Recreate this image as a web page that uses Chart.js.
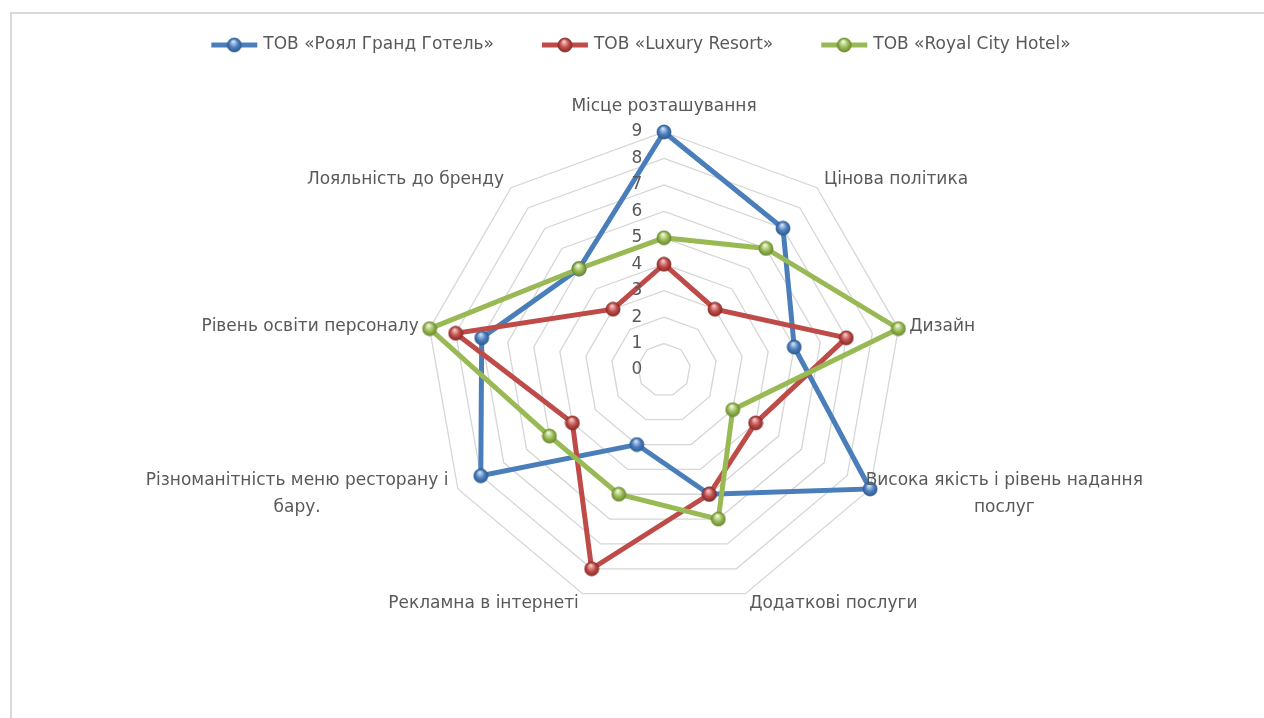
<!DOCTYPE html>
<html lang="uk">
<head>
<meta charset="utf-8">
<title>Конкурентні позиції готелів</title>
<script src="https://cdn.jsdelivr.net/npm/chart.js@4.4.0/dist/chart.umd.min.js"></script>
<style>
  html, body { margin: 0; padding: 0; background: #fff; overflow: hidden; }
  #frame { position: absolute; left: 10px; top: 12px; width: 1300px; height: 800px; border: 2px solid #d9d9d9; box-sizing: border-box; }
  #wrap { position: absolute; left: 0; top: 0; width: 1264px; height: 718px; }
</style>
</head>
<body>
<div id="frame"></div>
<div id="wrap"><canvas id="radar"></canvas></div>
<script>
// categories (clockwise from the top)
const categories = [
    "Місце розташування",
    "Цінова політика",
    "Дизайн",
    ["Висока якість і рівень надання", "послуг"],
    "Додаткові послуги",
    "Рекламна в інтернеті",
    ["Різноманітність меню ресторану і", "бару."],
    "Рівень освіти персоналу",
    "Лояльність до бренду"
];
const seriesNames = ["ТОВ «Роял Гранд Готель»", "ТОВ «Luxury Resort»", "ТОВ «Royal City Hotel»"];
const royalGrand = [9, 7, 5, 9, 5, 3, 8, 7, 5];
const luxuryResort = [4, 3, 7, 4, 5, 8, 4, 8, 3];
const royalCity = [5, 6, 9, 3, 6, 5, 5, 9, 5];
const tickValues = [0, 1, 2, 3, 4, 5, 6, 7, 8, 9];

const textGray = "#595959";
const FONT = '"DejaVu Sans", sans-serif';

// little glossy ball used as the marker
const makeBall = (base, light, dark, r) => {
    const c = document.createElement("canvas");
    const s = r * 2 + 2;
    c.width = c.height = s;
    const g = c.getContext("2d");
    const cx = s / 2, cy = s / 2;
    const grad = g.createRadialGradient(cx - r * 0.15, cy - r * 0.5, r * 0.1, cx, cy, r);
    grad.addColorStop(0, light);
    grad.addColorStop(0.55, base);
    grad.addColorStop(1, dark);
    g.fillStyle = grad;
    g.beginPath();
    g.arc(cx, cy, r, 0, Math.PI * 2);
    g.fill();
    g.strokeStyle = dark;
    g.lineWidth = 0.8;
    g.stroke();
    return c;
};

const colors = ["#4A7EBB", "#BE4B48", "#98B954"];
const balls = [
    makeBall("#4F81BD", "#c9dcf5", "#2d5b93", 7),
    makeBall("#C0504D", "#f4c4c2", "#8a2a27", 7),
    makeBall("#9BBB59", "#eef8d6", "#6b8a2e", 7)
];
const seriesData = [royalGrand, luxuryResort, royalCity];

// small per-label horizontal nudges (Excel wraps those two labels a bit differently)
const labelShiftX = [0, 0, 0, -14, 0, 0, 0, 0, 0];

const textPlugin = {
    id: "excelText",
    afterDraw(chart) {
        const scale = chart.scales.r;
        const ctx = chart.ctx;
        ctx.save();
        ctx.fillStyle = textGray;
        ctx.textBaseline = "middle";
        ctx.textAlign = "center";

        // tick numbers, left of the vertical axis
        ctx.font = "17px " + FONT;
        tickValues.forEach(v => {
            const d = scale.getDistanceFromCenterForValue(v);
            ctx.fillText(String(v), scale.xCenter - 27, scale.yCenter - d);
        });

        // category labels
        ctx.font = "17px " + FONT;
        const lh = 27;
        categories.forEach((lab, i) => {
            const lines = Array.isArray(lab) ? lab : [lab];
            const angle = i * 360 / categories.length;
            const pos = scale.getPointPosition(i, scale.drawingArea + 11);
            const w = Math.max(...lines.map(l => ctx.measureText(l).width));
            let left;
            if (angle === 0 || angle === 180) left = pos.x - w / 2;
            else if (angle < 180) left = pos.x;
            else left = pos.x - w;
            left += labelShiftX[i];
            let cy = pos.y;
            if (angle === 0) cy -= 14;
            const top = cy - lh * lines.length / 2;
            lines.forEach((l, k) => ctx.fillText(l, left + w / 2, top + lh * (k + 0.5)));
        });

        // legend
        ctx.font = "17px " + FONT;
        const symW = 46, gapTxt = 6, gapItem = 48, ly = 45;
        const widths = seriesNames.map(n => ctx.measureText(n).width);
        const total = widths.reduce((a, b) => a + b, 0) + seriesNames.length * (symW + gapTxt) + gapItem * (seriesNames.length - 1);
        let x = 641 - total / 2;
        ctx.textAlign = "left";
        seriesNames.forEach((n, i) => {
            ctx.strokeStyle = colors[i];
            ctx.lineWidth = 5;
            ctx.beginPath();
            ctx.moveTo(x, ly);
            ctx.lineTo(x + symW, ly);
            ctx.stroke();
            ctx.drawImage(balls[i], x + symW / 2 - balls[i].width / 2, ly - balls[i].height / 2);
            ctx.fillText(n, x + symW + gapTxt, ly);
            x += symW + gapTxt + widths[i] + gapItem;
        });
        ctx.restore();
    }
};

new Chart(document.getElementById("radar"), {
    type: "radar",
    data: {
        labels: categories,
        datasets: seriesData.map((d, i) => ({
            label: seriesNames[i],
            data: d,
            borderColor: colors[i],
            backgroundColor: colors[i],
            borderWidth: 5,
            fill: false,
            tension: 0,
            pointStyle: balls[i],
            pointRadius: 7,
            order: 3 - i
        }))
    },
    options: {
        responsive: true,
        maintainAspectRatio: false,
        animation: false,
        layout: { padding: { top: 132, left: 64, right: 0, bottom: 109 } },
        plugins: {
            legend: { display: false },
            tooltip: { enabled: false }
        },
        scales: {
            r: {
                min: 0,
                max: 9,
                ticks: { display: false, stepSize: 1 },
                grid: { color: "#d6d6d6", lineWidth: 1.3 },
                angleLines: { display: false },
                pointLabels: { display: false }
            }
        }
    },
    plugins: [textPlugin]
});
</script>
</body>
</html>
